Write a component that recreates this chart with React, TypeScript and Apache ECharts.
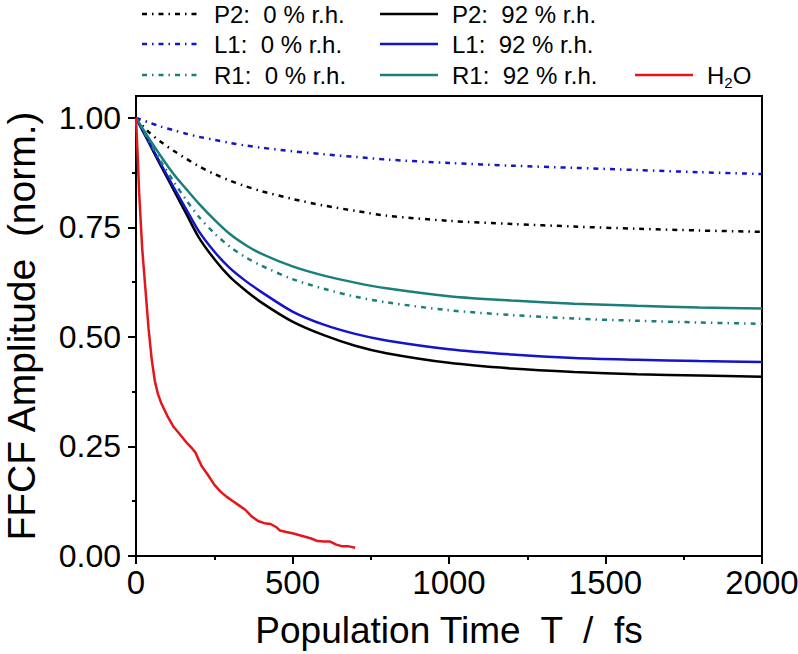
import React, { useEffect, useRef } from "react";
import * as echarts from "echarts";

// Population time (fs) for the fitted curves
const timeFit = [0, 40, 80, 120, 160, 200, 250, 300, 350, 400, 500, 600, 700, 800, 1000, 1200, 1400, 1600, 1800, 2000];
const p2Dry = [1.0, 0.968, 0.945, 0.925, 0.907, 0.89, 0.872, 0.857, 0.844, 0.833, 0.815, 0.8, 0.788, 0.777, 0.765, 0.758, 0.752, 0.747, 0.743, 0.74];
const p2Wet = [1.0, 0.945, 0.89, 0.836, 0.782, 0.728, 0.678, 0.637, 0.606, 0.579, 0.535, 0.504, 0.48, 0.463, 0.441, 0.428, 0.42, 0.415, 0.412, 0.409];
const l1Dry = [1.0, 0.99, 0.98, 0.972, 0.964, 0.957, 0.95, 0.943, 0.937, 0.932, 0.924, 0.917, 0.911, 0.905, 0.897, 0.891, 0.886, 0.881, 0.876, 0.872];
const l1Wet = [1.0, 0.947, 0.894, 0.842, 0.792, 0.742, 0.695, 0.657, 0.628, 0.603, 0.558, 0.528, 0.507, 0.492, 0.472, 0.46, 0.452, 0.448, 0.445, 0.443];
const r1Dry = [1.0, 0.95, 0.9, 0.855, 0.813, 0.775, 0.737, 0.706, 0.682, 0.663, 0.632, 0.61, 0.592, 0.579, 0.561, 0.55, 0.542, 0.537, 0.533, 0.53];
const r1Wet = [1.0, 0.955, 0.912, 0.872, 0.838, 0.805, 0.768, 0.735, 0.71, 0.69, 0.661, 0.64, 0.624, 0.611, 0.593, 0.583, 0.576, 0.571, 0.567, 0.565];

// H2O data
const timeH2O = [0, 5, 10, 20, 30, 40, 50, 60, 70, 80, 100, 120, 140, 160, 180, 190, 200, 210, 230, 250, 270, 290, 310, 330, 350, 370, 390, 410, 430, 450, 460, 480, 500, 520, 540, 560, 580, 600, 620, 640, 660, 680, 700];
const h2o = [1.0, 0.92, 0.83, 0.7, 0.61, 0.52, 0.45, 0.4, 0.37, 0.35, 0.32, 0.295, 0.278, 0.26, 0.245, 0.236, 0.22, 0.205, 0.185, 0.163, 0.147, 0.135, 0.125, 0.115, 0.105, 0.09, 0.08, 0.075, 0.073, 0.065, 0.058, 0.055, 0.052, 0.048, 0.044, 0.04, 0.034, 0.033, 0.033, 0.026, 0.022, 0.022, 0.019];

const yMajor = [0, 0.25, 0.5, 0.75, 1.0];
const yMinor = [0.125, 0.375, 0.625, 0.875];

const legendItems = [
  { name: "P2:  0 % r.h.", color: "#000000", dash: true },
  { name: "P2:  92 % r.h.", color: "#000000", dash: false },
  { name: "L1:  0 % r.h.", color: "#1414c8", dash: true },
  { name: "L1:  92 % r.h.", color: "#1414c8", dash: false },
  { name: "R1:  0 % r.h.", color: "#1a7f7a", dash: true },
  { name: "R1:  92 % r.h.", color: "#1a7f7a", dash: false },
  { name: "H2O", color: "#e3171b", dash: false },
];

const FONT = "'Liberation Sans', Arial, Helvetica, sans-serif";
const DASH = [5, 5, 1.5, 5];

export default function App() {
  const ref = useRef<HTMLDivElement>(null);
  useEffect(() => {
    document.body.style.margin = "0";
    if (!ref.current) return;
    const chart = echarts.init(ref.current, null, { renderer: "svg" });

    const mk = (t: number[], v: number[]) => t.map((x, i) => [x, v[i]]);
    const dataSets = [
      mk(timeFit, p2Dry),
      mk(timeFit, p2Wet),
      mk(timeFit, l1Dry),
      mk(timeFit, l1Wet),
      mk(timeFit, r1Dry),
      mk(timeFit, r1Wet),
      mk(timeH2O, h2o),
    ];

    const series: any[] = legendItems.map((it, i) => ({
      name: it.name,
      type: "line",
      data: dataSets[i],
      showSymbol: false,
      smooth: i < 6 ? 0.3 : false,
      lineStyle: {
        color: it.color,
        width: 2.5,
        type: it.dash ? DASH : "solid",
      },
      z: 3,
    }));

    // legend via graphic
    const cols = [142, 380, 635];
    const rows = [14, 44, 75];
    const pos = [
      [0, 0], [1, 0], [0, 1], [1, 1], [0, 2], [1, 2], [2, 2],
    ];
    const graphics: any[] = [];
    legendItems.forEach((it, i) => {
      const [c, r] = pos[i];
      const x = cols[c];
      const y = rows[r];
      graphics.push({
        type: "line",
        shape: { x1: x, y1: y, x2: x + 58, y2: y },
        style: { stroke: it.color, lineWidth: 2.5, lineDash: it.dash ? DASH : null },
      });
      if (it.name === "H2O") {
        graphics.push({
          type: "text",
          x: x + 72,
          y: y,
          style: {
            text: "{a|H}{s|2}{a|O}",
            verticalAlign: "middle",
            rich: {
              a: { fontSize: 24, fontFamily: FONT, fill: "#000" },
              s: { fontSize: 15, fontFamily: FONT, fill: "#000", padding: [14, 0, 0, 0] },
            },
          },
        });
      } else {
        graphics.push({
          type: "text",
          x: x + 72,
          y: y,
          style: {
            text: it.name,
            fontSize: 24,
            fontFamily: FONT,
            fill: "#000",
            verticalAlign: "middle",
          },
        });
      }
    });

    chart.setOption({
      animation: false,
      backgroundColor: "#fff",
      textStyle: { fontFamily: FONT },
      grid: {
        left: 136,
        top: 96,
        right: 36,
        bottom: 98,
        show: true,
        borderColor: "#000",
        borderWidth: 2,
        containLabel: false,
        outerBoundsMode: "none",
      },
      xAxis: {
        type: "value",
        min: 0,
        max: 2000,
        interval: 500,
        name: "Population Time  T  /  fs",
        nameLocation: "middle",
        nameGap: 56,
        nameTextStyle: { fontSize: 37, color: "#000", fontFamily: FONT, verticalAlign: "top" },
        axisLine: { show: true, onZero: false, lineStyle: { color: "#000", width: 2 } },
        axisTick: { show: true, inside: false, length: 8, lineStyle: { color: "#000", width: 2 } },
        minorTick: { show: true, splitNumber: 2, length: 4, lineStyle: { color: "#000", width: 2 } },
        axisLabel: {
          fontSize: 33,
          color: "#000",
          margin: 10,
          fontFamily: FONT,
          formatter: (v: number) => String(v),
        },
        splitLine: { show: false },
        minorSplitLine: { show: false },
      },
      yAxis: [
        {
          type: "value",
          min: 0,
          max: 1.05,
          name: "FFCF Amplitude  (norm.)",
          nameLocation: "middle",
          nameGap: 95,
          nameTextStyle: { fontSize: 39, color: "#000", fontFamily: FONT },
          axisLine: { show: true, onZero: false, lineStyle: { color: "#000", width: 2 } },
          axisTick: { show: true, length: 8, customValues: yMajor, lineStyle: { color: "#000", width: 2 } },
          axisLabel: {
            fontSize: 32,
            color: "#000",
            margin: 15,
            fontFamily: FONT,
            customValues: yMajor,
            formatter: (v: number) => v.toFixed(2),
          },
          splitLine: { show: false },
        },
        {
          type: "value",
          min: 0,
          max: 1.05,
          position: "left",
          axisLine: { show: false },
          axisTick: { show: true, length: 4, customValues: yMinor, lineStyle: { color: "#000", width: 2 } },
          axisLabel: { show: false },
          splitLine: { show: false },
        },
      ],
      graphic: graphics,
      series,
    });
    return () => chart.dispose();
  }, []);
  return <div ref={ref} style={{ width: 798, height: 654 }} />;
}
